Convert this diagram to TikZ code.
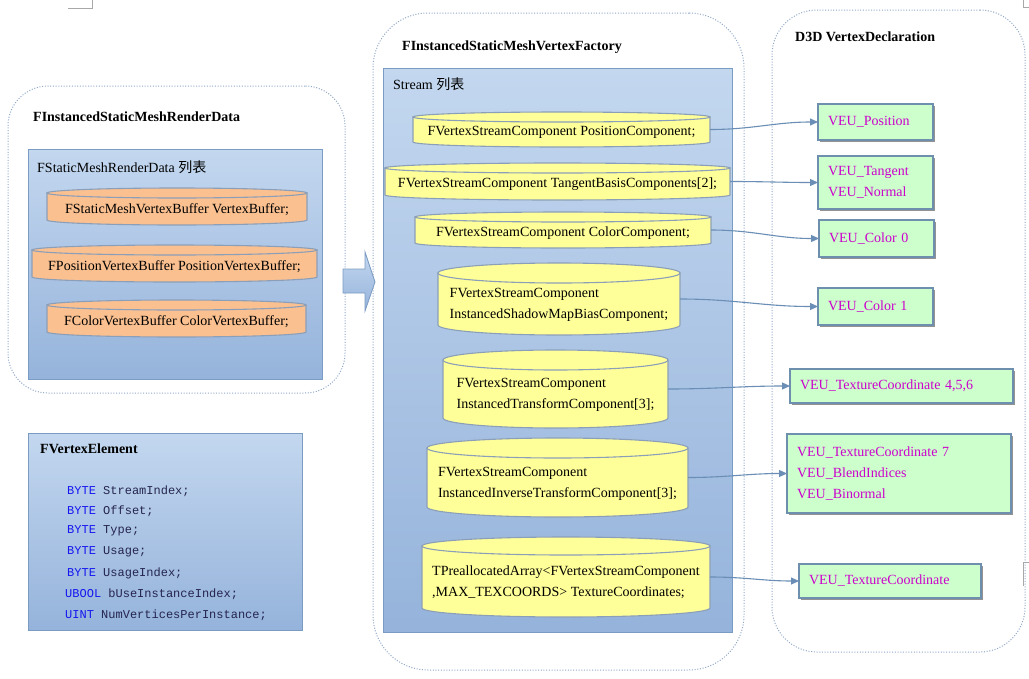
\documentclass[tikz,border=0pt]{standalone}
\usepackage{fontspec}
\setmainfont{Liberation Serif}
\setmonofont{Liberation Mono}
\newfontfamily\cjk{Noto Sans CJK SC}
\usetikzlibrary{arrows.meta,shadows}
\definecolor{panelline}{HTML}{8FA8C8}
\definecolor{bluetop}{HTML}{C3D7EF}
\definecolor{bluebot}{HTML}{95B3DB}
\definecolor{blueline}{HTML}{7B9CC2}
\definecolor{cylline}{HTML}{8C9FB8}
\definecolor{cylyellow}{HTML}{FFFF99}
\definecolor{cylorange}{HTML}{FAC090}
\definecolor{greenfill}{HTML}{CCFFCC}
\definecolor{greenline}{HTML}{6F8FAF}
\definecolor{veu}{HTML}{CC00CC}
\definecolor{conncol}{HTML}{6A8EB5}
\definecolor{kw}{HTML}{1515F0}
\definecolor{ident}{HTML}{25254F}
\definecolor{cornergray}{HTML}{A8A8A8}
\tikzset{
  panel/.style={draw=panelline, line width=1pt, dash pattern=on 1pt off 1.7pt, inner sep=0pt, outer sep=0pt},
  bluebox/.style={draw=blueline, line width=1pt, top color=bluetop, bottom color=bluebot, inner sep=0pt, outer sep=0pt},
  txt/.style={font=\fontsize{14}{21}\selectfont, inner sep=0pt, anchor=west},
  titletxt/.style={font=\fontsize{14}{21}\selectfont\bfseries, inner sep=0pt, anchor=west},
  codetxt/.style={font=\fontsize{12}{20}\selectfont\ttfamily, text=ident, inner sep=0pt, anchor=west},
  cylbody/.style={draw=cylline, line width=1.1pt},
  cylanchor/.style={inner sep=0pt, outer sep=0pt},
  cyltext/.style={font=\fontsize{14}{21}\selectfont, inner sep=0pt, align=left},
  veubox/.style={draw=greenline, line width=1.1pt, fill=greenfill, inner xsep=10pt, inner ysep=0pt, outer sep=0pt,
    align=left, text=veu, font=\fontsize{14}{21}\selectfont,
    drop shadow={shadow xshift=2pt, shadow yshift=-2pt, fill=black!60, opacity=0.7}},
  conn/.style={draw=conncol, line width=1.1pt, -{Triangle[length=8pt,width=7pt]}},
  cornermk/.style={draw=cornergray, line width=0.8pt},
  blockarrow/.style={draw=blueline, line width=0.8pt, top color=bluetop, bottom color=bluebot}
}
% #1 name, #2 x1, #3 y1, #4 x2, #5 y2, #6 ry, #7 fill, #8 text
\newcommand\mycyl[8]{%
  \pgfmathsetmacro\cylcx{(#2+#4)/2}%
  \pgfmathsetmacro\cylrx{(#4-#2)/2}%
  \pgfmathsetmacro\cylyt{#3+#6}%
  \pgfmathsetmacro\cylyb{#5-#6}%
  \pgfmathsetmacro\cylty{(#3+#5)/2+0.6*#6}%
  \pgfmathsetmacro\cylcy{(#3+#5)/2}%
  \pgfmathsetmacro\cylw{#4-#2}%
  \pgfmathsetmacro\cylh{#5-#3}%
  \path[cylbody, fill=#7] (#2,\cylyt) -- (#2,\cylyb)
    .. controls (#2,\cylyb+0.5523*#6) and (\cylcx-0.5523*\cylrx,#5) .. (\cylcx,#5)
    .. controls (\cylcx+0.5523*\cylrx,#5) and (#4,\cylyb+0.5523*#6) .. (#4,\cylyb)
    -- (#4,\cylyt) -- cycle;
  \path[cylbody, fill=#7] (\cylcx,\cylyt) ellipse [x radius=\cylrx pt, y radius=#6 pt];
  \node[cylanchor, minimum width=\cylw pt, minimum height=\cylh pt] (#1) at (\cylcx,\cylcy) {};
  \node[cyltext] (#1-t) at (\cylcx,\cylty) {#8};
}
\begin{document}
\begin{tikzpicture}[x=1pt,y=-1pt]
\useasboundingbox[fill=white] (0,0) rectangle (1029,678);

% corner marks
\draw[cornermk] (68,8) -- (92,8) -- (92,0);
\draw[cornermk] (1023,0) -- (1023,7) -- (1029,7);
\draw[cornermk] (1029,562) -- (1023,562) -- (1023,586);

% panels
\node[panel, rounded corners=40pt, minimum width=337pt, minimum height=307pt] (leftpanel) at (176.5,239.5) {};
\node[panel, rounded corners=55pt, minimum width=371pt, minimum height=657pt] (midpanel) at (558.5,341.5) {};
\node[panel, rounded corners=45pt, minimum width=253pt, minimum height=642pt] (rightpanel) at (898.5,331) {};

% titles
\node[titletxt] (t1) at (33,117) {FInstancedStaticMeshRenderData};
\node[titletxt] (t2) at (402,47) {FInstancedStaticMeshVertexFactory};
\node[titletxt] (t3) at (795,37) {D3D VertexDeclaration};

% blue boxes
\node[bluebox, minimum width=294pt, minimum height=230pt] (rdlist) at (175,264) {};
\node[bluebox, minimum width=349pt, minimum height=564pt] (streamlist) at (557.5,350) {};
\node[bluebox, minimum width=274pt, minimum height=197pt] (fvebox) at (165,531.5) {};

\node[txt] (rdlabel) at (37,167) {FStaticMeshRenderData {\cjk 列表}};
\node[txt] (stlabel) at (393,84) {Stream {\cjk 列表}};

% orange cylinders
\mycyl{o1}{47}{188}{307}{225}{5}{cylorange}{FStaticMeshVertexBuffer VertexBuffer;}
\mycyl{o2}{32}{245}{317}{282}{5}{cylorange}{FPositionVertexBuffer PositionVertexBuffer;}
\mycyl{o3}{47}{300}{306}{337}{5}{cylorange}{FColorVertexBuffer ColorVertexBuffer;}

% block arrow
\path[blockarrow] (343,269) -- (365,269) -- (365,252) -- (375,282) -- (365,311) -- (365,293) -- (343,293) -- cycle;

% yellow cylinders
\mycyl{y1}{413}{112}{710}{147}{5}{cylyellow}{FVertexStreamComponent PositionComponent;}
\mycyl{y2}{385}{163}{730}{200}{5}{cylyellow}{FVertexStreamComponent TangentBasisComponents[2];}
\mycyl{y3}{415}{212}{711}{248}{5}{cylyellow}{FVertexStreamComponent ColorComponent;}
\mycyl{y4}{438}{263}{680}{335}{10}{cylyellow}{FVertexStreamComponent\\InstancedShadowMapBiasComponent;}
\mycyl{y5}{443}{350}{668}{428}{10}{cylyellow}{FVertexStreamComponent\\InstancedTransformComponent[3];}
\mycyl{y6}{427}{438}{688}{517}{10}{cylyellow}{FVertexStreamComponent\\InstancedInverseTransformComponent[3];}
\mycyl{y7}{422}{537}{710}{617}{9}{cylyellow}{TPreallocatedArray<FVertexStreamComponent\\,MAX\_TEXCOORDS> TextureCoordinates;}

% green boxes
\node[veubox, text width=95pt, minimum height=36pt] (v1) at (875.5,122) {VEU\_Position};
\node[veubox, text width=95pt, minimum height=53pt] (v2) at (875.5,182.5) {VEU\_Tangent\\VEU\_Normal};
\node[veubox, text width=95pt, minimum height=37pt] (v3) at (876.5,238.5) {VEU\_Color 0};
\node[veubox, text width=95pt, minimum height=37pt] (v4) at (875.5,306.5) {VEU\_Color 1};
\node[veubox, text width=203pt, minimum height=34pt] (v5) at (901.5,386) {VEU\_TextureCoordinate 4,5,6};
\node[veubox, text width=204pt, minimum height=79pt] (v6) at (899,473.5) {VEU\_TextureCoordinate 7\\VEU\_BlendIndices\\VEU\_Binormal};
\node[veubox, text width=162pt, minimum height=34pt] (v7) at (890,581) {VEU\_TextureCoordinate};

% connectors
\draw[conn] (y1.east) to[out=0,in=180] (v1.west);
\draw[conn] (y2.east) to[out=0,in=180] (v2.west);
\draw[conn] (y3.east) to[out=0,in=180] (v3.west);
\draw[conn] (y4.east) to[out=0,in=180] (v4.west);
\draw[conn] (y5.east) to[out=0,in=180] (v5.west);
\draw[conn] (y6.east) to[out=0,in=180] (v6.west);
\draw[conn] (y7.east) to[out=0,in=180] (v7.west);

% FVertexElement
\node[titletxt] (fvetitle) at (40,449) {FVertexElement};
\node[codetxt] (fe1) at (67,491) {\textcolor{kw}{BYTE} StreamIndex;};
\node[codetxt] (fe2) at (67,511) {\textcolor{kw}{BYTE} Offset;};
\node[codetxt] (fe3) at (67,531) {\textcolor{kw}{BYTE} Type;};
\node[codetxt] (fe4) at (67,552) {\textcolor{kw}{BYTE} Usage;};
\node[codetxt] (fe5) at (67,573) {\textcolor{kw}{BYTE} UsageIndex;};
\node[codetxt] (fe6) at (65,594) {\textcolor{kw}{UBOOL} bUseInstanceIndex;};
\node[codetxt] (fe7) at (65,615) {\textcolor{kw}{UINT} NumVerticesPerInstance;};
\end{tikzpicture}
\end{document}
